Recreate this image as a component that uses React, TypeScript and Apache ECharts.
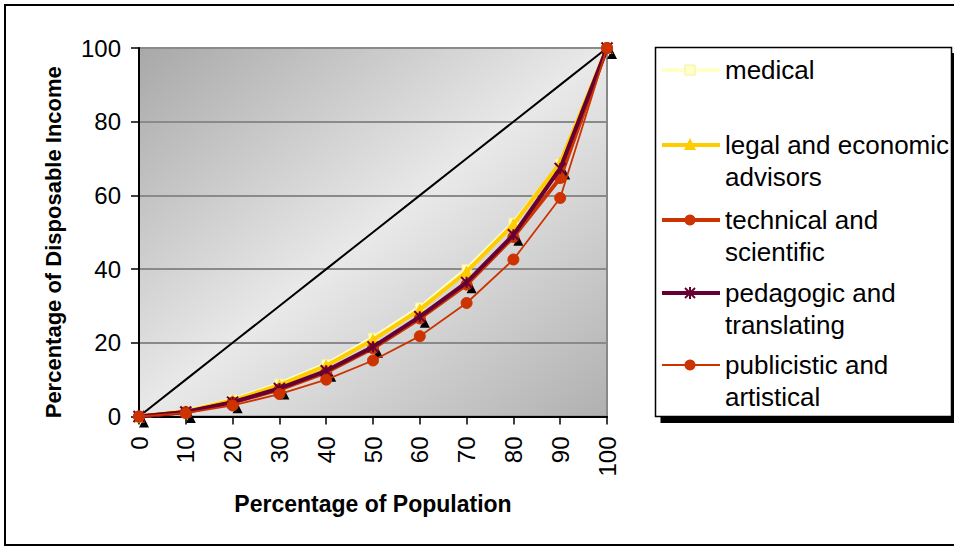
import React, { useEffect, useRef } from "react";
import * as echarts from "echarts";

const X_VALUES = [0, 10, 20, 30, 40, 50, 60, 70, 80, 90, 100];
const EQUALITY = [0, 10, 20, 30, 40, 50, 60, 70, 80, 90, 100];
const MEDICAL = [0, 1.5, 4.6, 8.9, 14.2, 21.4, 29.6, 40.0, 52.6, 68.6, 100];
const LEGAL = [0, 1.4, 4.4, 8.5, 13.8, 20.8, 29.0, 39.3, 52.1, 68.8, 100];
const TECHNICAL = [0, 1.2, 3.8, 7.3, 12.0, 18.5, 26.6, 35.8, 48.7, 64.7, 100];
const PEDAGOGIC = [0, 1.2, 3.9, 7.6, 12.4, 18.9, 27.1, 36.4, 49.3, 67.3, 100];
const PUBLICISTIC = [0, 0.9, 3.0, 6.1, 10.0, 15.2, 21.8, 30.8, 42.6, 59.3, 100];

const SERIES_NAMES = [
  "medical",
  "legal and economic\nadvisors",
  "technical and\nscientific",
  "pedagogic and\ntranslating",
  "publicistic and\nartistical",
];
const X_TITLE = "Percentage of Population";
const Y_TITLE = "Percentage of Disposable Income";

const FONT = '"Liberation Sans", Arial, sans-serif';
const STAR = "path://M0,0L10,10M10,0L0,10M5,0L5,10";

const pairs = (ys: number[]) => X_VALUES.map((x, i) => [x, ys[i]]);

export default function App() {
  const ref = useRef<HTMLDivElement>(null);
  useEffect(() => {
    if (!ref.current) return;
    const chart = echarts.init(ref.current, null, { renderer: "svg" });

    const styles = [
      { color: "#ffffc8", width: 4, symbol: "rect", size: 9, border: "#f4f0a0" },
      { color: "#ffcc00", width: 4, symbol: "triangle", size: 11, border: "#ffcc00" },
      { color: "#cc3300", width: 4, symbol: "circle", size: 11, border: "#cc3300" },
      { color: "#660033", width: 4, symbol: STAR, size: 11, border: "#660033" },
      { color: "#cc3300", width: 1.8, symbol: "circle", size: 11, border: "#cc3300" },
    ];
    const datasets = [MEDICAL, LEGAL, TECHNICAL, PEDAGOGIC, PUBLICISTIC];

    const mainSeries = datasets.map((d, i) => {
      const s = styles[i];
      const isStar = i === 3;
      return {
        type: "line",
        name: SERIES_NAMES[i],
        data: pairs(d),
        symbol: s.symbol,
        symbolSize: s.size,
        showSymbol: true,
        lineStyle: { color: s.color, width: s.width },
        itemStyle: isStar
          ? { color: "rgba(0,0,0,0)", borderColor: s.border, borderWidth: 2 }
          : { color: s.color, borderColor: s.border, borderWidth: 1 },
        z: 3 + i,
        silent: true,
      };
    });

    const legendX0 = 662;
    const legendX1 = 720;
    const markX = 690;
    const textX = 725;
    const rowY = [70, 145, 220, 293, 365];
    const legendEls: any[] = [
      {
        type: "rect",
        shape: { x: 660.5, y: 53, width: 300, height: 370 },
        style: { fill: "#000" },
        z: 10,
      },
      {
        type: "rect",
        shape: { x: 655.5, y: 47.5, width: 296, height: 369 },
        style: { fill: "#fff", stroke: "#000", lineWidth: 1.5 },
        z: 11,
      },
    ];
    styles.forEach((s, i) => {
      const y = rowY[i];
      legendEls.push({
        type: "line",
        shape: { x1: legendX0, y1: y, x2: legendX1, y2: y },
        style: { stroke: s.color, lineWidth: s.width },
        z: 12,
      });
      if (i === 0) {
        legendEls.push({
          type: "rect",
          shape: { x: markX - 5, y: y - 5, width: 10, height: 10 },
          style: { fill: s.color, stroke: s.border, lineWidth: 1 },
          z: 13,
        });
      } else if (i === 1) {
        legendEls.push({
          type: "polygon",
          shape: { points: [[markX, y - 7], [markX + 6, y + 5], [markX - 6, y + 5]] },
          style: { fill: s.color },
          z: 13,
        });
      } else if (i === 3) {
        legendEls.push({
          type: "polyline",
          shape: { points: [[markX - 5, y - 5], [markX + 5, y + 5]] },
          style: { stroke: s.color, lineWidth: 2 },
          z: 13,
        });
        legendEls.push({
          type: "polyline",
          shape: { points: [[markX + 5, y - 5], [markX - 5, y + 5]] },
          style: { stroke: s.color, lineWidth: 2 },
          z: 13,
        });
        legendEls.push({
          type: "polyline",
          shape: { points: [[markX, y - 6], [markX, y + 6]] },
          style: { stroke: s.color, lineWidth: 2 },
          z: 13,
        });
      } else {
        legendEls.push({
          type: "circle",
          shape: { cx: markX, cy: y, r: 5.5 },
          style: { fill: s.color },
          z: 13,
        });
      }
      legendEls.push({
        type: "text",
        x: textX,
        y: y - 16,
        style: {
          text: SERIES_NAMES[i],
          font: `26px ${FONT}`,
          fill: "#000",
          lineHeight: 32,
          verticalAlign: "top",
          align: "left",
        },
        z: 13,
      });
    });

    const option: any = {
      animation: false,
      backgroundColor: "#fff",
      grid: {
        left: 139,
        right: 347,
        top: 48,
        bottom: 131.5,
        show: true,
        backgroundColor: new echarts.graphic.LinearGradient(0, 0, 1, 1, [
          { offset: 0, color: "#a8a8a8" },
          { offset: 0.5, color: "#e9e9e9" },
          { offset: 1, color: "#b0b0b0" },
        ]),
        borderColor: "#888",
        borderWidth: 2,
      },
      xAxis: {
        type: "value",
        min: 0,
        max: 100,
        interval: 10,
        name: X_TITLE,
        nameLocation: "middle",
        nameGap: 76,
        nameTextStyle: { fontFamily: FONT, fontSize: 23, fontWeight: "bold", color: "#000" },
        axisLine: { show: true, lineStyle: { color: "#000", width: 2 } },
        axisTick: { show: true, length: 8, lineStyle: { color: "#000", width: 1.5 } },
        axisLabel: { rotate: 90, margin: 20, fontFamily: FONT, fontSize: 24, color: "#000" },
        splitLine: { show: false },
      },
      yAxis: {
        type: "value",
        min: 0,
        max: 100,
        interval: 20,
        name: Y_TITLE,
        nameLocation: "middle",
        nameGap: 75,
        nameTextStyle: {
          fontFamily: FONT,
          fontSize: 22,
          fontWeight: "bold",
          color: "#000",
          padding: [0, 20, 0, 0],
        },
        axisLine: { show: true, lineStyle: { color: "#000", width: 2 } },
        axisTick: { show: true, length: 8, lineStyle: { color: "#000", width: 1.5 } },
        axisLabel: { margin: 18, fontFamily: FONT, fontSize: 24, color: "#000" },
        splitLine: { show: true, lineStyle: { color: "#8a8a8a", width: 2 } },
      },
      series: [
        {
          type: "line",
          name: "equality",
          data: pairs(EQUALITY),
          symbol: "none",
          lineStyle: { color: "#000", width: 2 },
          z: 1,
          silent: true,
        },
        {
          type: "line",
          name: "shadow",
          data: pairs(PEDAGOGIC),
          symbol: "triangle",
          symbolSize: 10,
          symbolOffset: [5, 6],
          lineStyle: { opacity: 0 },
          itemStyle: { color: "#000" },
          z: 2,
          silent: true,
        },
        ...mainSeries,
      ],
      graphic: [
        {
          type: "rect",
          shape: { x: 5, y: 5, width: 960, height: 540 },
          style: { fill: "none", stroke: "#000", lineWidth: 2 },
          z: 20,
          silent: true,
        },
        ...legendEls,
      ],
    };
    chart.setOption(option);
    return () => chart.dispose();
  }, []);
  return (
    <div
      ref={ref}
      style={{ position: "absolute", left: 0, top: 0, width: 954, height: 548 }}
    />
  );
}
